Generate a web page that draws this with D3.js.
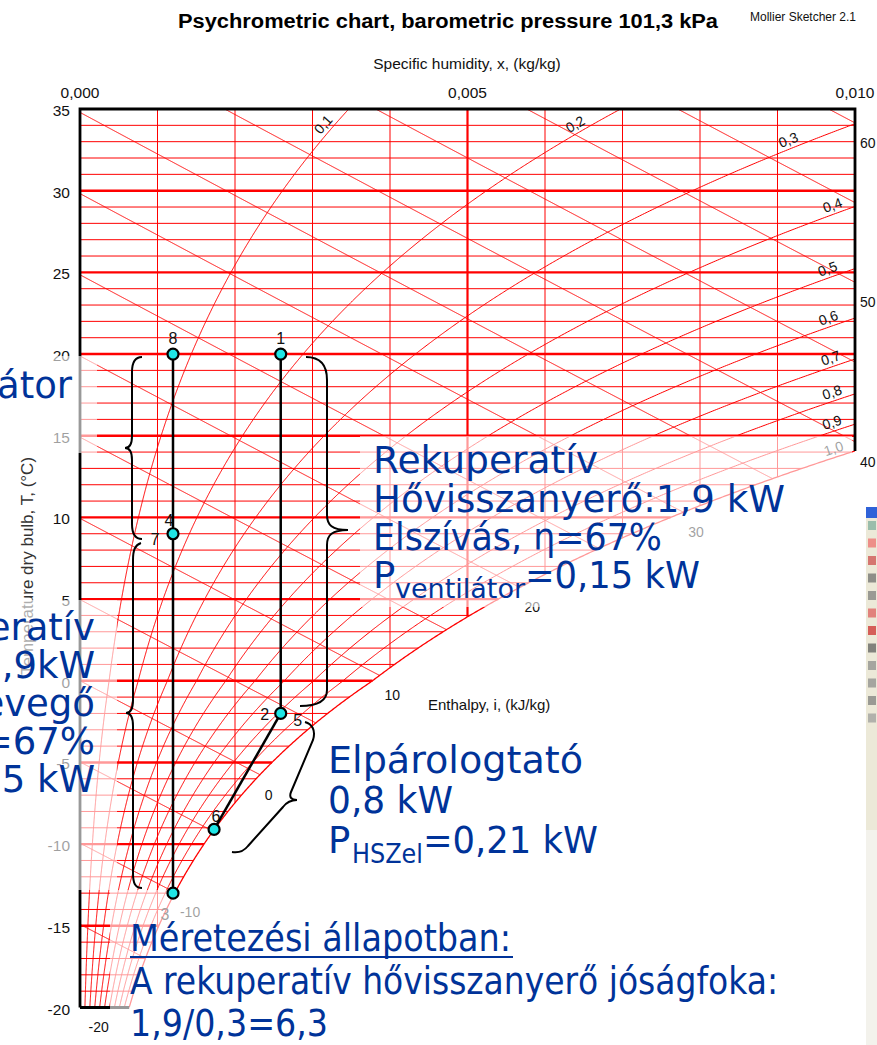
<!DOCTYPE html>
<html><head><meta charset="utf-8">
<script src="https://cdn.jsdelivr.net/npm/d3@7/dist/d3.min.js"></script>
<style>body{margin:0;background:#fff;overflow:hidden}svg{display:block}</style>
</head><body>
<script>
// ---------- data ----------
const pressure = 101.3; // kPa
const isotherms = [-19,-18,-17,-16,-15,-14,-13,-12,-11,-10,-9,-8,-7,-6,-5,-4,-3,-2,-1,0,1,2,3,4,5,6,7,8,9,10,11,12,13,14,15,16,17,18,19,20,21,22,23,24,25,26,27,28,29,30,31,32,33,34];
const humidityGrid = [0.001,0.002,0.003,0.004,0.005,0.006,0.007,0.008,0.009];
const rhLevels = [0.1,0.2,0.3,0.4,0.5,0.6,0.7,0.8,0.9,1.0];
const rhLabelText = ["0,1","0,2","0,3","0,4","0,5","0,6","0,7","0,8","0,9","1,0"];
const rhLabelT = [33.7,33.6,32.6,28.6,24.7,21.7,19.25,17.15,15.3,13.7];
const enthalpyLevels = [-20,-15,-10,-5,0,5,10,15,20,25,30,35,40,45,50,55,60];
const enthalpyLabelLevels = [-20,-10,0,10,20,30,40,50,60];
const tempTicks = [-20,-15,-10,-5,0,5,10,15,20,25,30,35];
const xTickValues = [0,0.005,0.010];
const xTickLabels = ["0,000","0,005","0,010"];
// state points
const stateNames = ["1","2","3","6","7","8"];
const stateX = [0.00259,0.00259,0.00120,0.00173,0.00120,0.00120];
const stateT = [20,-2.0,-13.0,-9.1,9.0,20];
const pointLabels = ["1","8","7","4","2","5","6","3"];
const pointLabelOf = ["1","8","7","7","2","2","6","3"];
const processPaths = [["8","3"],["1","2"],["2","6"]];

// ---------- psychrometrics ----------
function psat(T){ return T>=0 ? 0.61094*Math.exp(17.625*T/(T+243.04)) : 0.61115*Math.exp(22.452*T/(272.55+T)); }
function xOf(T,phi){ const p=phi*psat(T); return 0.622*p/(pressure-p); }
function tSat(x){ let lo=-60,hi=80; for(let k=0;k<60;k++){const m=(lo+hi)/2; if(xOf(m,1)<x) lo=m; else hi=m;} return (lo+hi)/2; }
function tOfEnth(i,x){ return (i-2501*x)/(1.006+1.86*x); }

const W=877,H=1045;
const svg=d3.select("body").append("svg").attr("width",W).attr("height",H);
const xS=d3.scaleLinear().domain([0,0.01]).range([80,855]);
const yS=d3.scaleLinear().domain([-20,35]).range([1007.5,109]);
const RED="#ff0000";
const sans="Liberation Sans, Arial, sans-serif";

svg.append("defs").append("clipPath").attr("id","plot").append("rect")
  .attr("x",xS(0)).attr("y",yS(35)).attr("width",xS(0.01)-xS(0)).attr("height",yS(-20)-yS(35));

const grid=svg.append("g").attr("clip-path","url(#plot)");
const line=d3.line().x(d=>xS(d[0])).y(d=>yS(d[1]));

// isotherms
grid.selectAll("line.iso").data(isotherms).join("line")
  .attr("x1",xS(0)).attr("x2",t=>xS(Math.min(xOf(t,1),0.01)))
  .attr("y1",t=>yS(t)).attr("y2",t=>yS(t))
  .attr("stroke",RED).attr("stroke-width",t=>t%5===0?2.4:1);

// constant humidity lines
grid.selectAll("line.xg").data(humidityGrid).join("line")
  .attr("x1",x=>xS(x)).attr("x2",x=>xS(x))
  .attr("y1",yS(35)).attr("y2",x=>yS(Math.max(tSat(x),-20)))
  .attr("stroke",RED).attr("stroke-width",x=>Math.abs(x-0.005)<1e-9?2.2:1);

// enthalpy lines
const enthEnds={};
enthalpyLevels.forEach(i=>{
  const pts=[]; const N=2000;
  for(let k=0;k<=N;k++){
    const x=0.01*k/N, T=tOfEnth(i,x);
    if(T>=-20 && T<=35 && x<=xOf(T,1)) pts.push([x,T]);
  }
  if(pts.length>1){
    grid.append("path").attr("d",line(pts)).attr("fill","none").attr("stroke",RED).attr("stroke-width",1);
    enthEnds[i]=pts[pts.length-1];
  }
});

// relative humidity curves
const rhEnds=[];
rhLevels.forEach(phi=>{
  const pts=[];
  for(let T=-20;T<=35.001;T+=0.05){ const x=xOf(T,phi); if(x<=0.0102) pts.push([x,T]); }
  grid.append("path").attr("d",line(pts)).attr("fill","none").attr("stroke",RED).attr("stroke-width",phi===1?1.3:1);
});

// frame
const tTop=tSat(0.01);
svg.append("path").attr("fill","none").attr("stroke","#000").attr("stroke-width",2.8)
  .attr("d",`M${xS(0)},${yS(-20)}L${xS(0)},${yS(35)}L${xS(0.01)},${yS(35)}L${xS(0.01)},${yS(tTop)}M${xS(0)},${yS(-20)}L${xS(xOf(-20,1))},${yS(-20)}`);

// RH labels
rhLevels.forEach((phi,k)=>{
  const T=rhLabelT[k];
  const px=xS(xOf(T,phi)), py=yS(T);
  const px2=xS(xOf(T+0.3,phi)), py2=yS(T+0.3);
  const ang=Math.atan2(py2-py,px2-px)*180/Math.PI;
  svg.append("text").attr("transform",`translate(${px},${py}) rotate(${ang})`)
    .attr("x",0).attr("y",-4).attr("text-anchor","middle")
    .attr("font-family",sans).attr("font-size",14).attr("fill","#111").text(rhLabelText[k]);
});

// enthalpy labels
enthalpyLabelLevels.forEach(i=>{
  const e=enthEnds[i]; if(!e) return;
  svg.append("text").attr("x",xS(e[0])+5).attr("y",yS(e[1])+25)
    .attr("font-family",sans).attr("font-size",14).attr("fill","#111").text(String(i));
});
svg.append("text").attr("x",428).attr("y",710).attr("font-family",sans).attr("font-size",15).attr("fill","#111").text("Enthalpy, i, (kJ/kg)");

// axes labels
svg.selectAll("text.yt").data(tempTicks).join("text")
  .attr("x",70).attr("y",t=>yS(t)+7).attr("text-anchor","end")
  .attr("font-family",sans).attr("font-size",15.5).attr("fill","#111").text(t=>String(t));
svg.selectAll("text.xt").data(xTickValues).join("text")
  .attr("x",x=>xS(x)).attr("y",98).attr("text-anchor","middle")
  .attr("font-family",sans).attr("font-size",15.5).attr("fill","#111").text((x,k)=>xTickLabels[k]);
svg.append("text").attr("x",467).attr("y",69).attr("text-anchor","middle").attr("font-family",sans).attr("font-size",15.5).attr("fill","#111").text("Specific humidity, x, (kg/kg)");
svg.append("text").attr("transform","translate(33,566) rotate(-90)").attr("text-anchor","middle")
  .attr("font-family",sans).attr("font-size",17).attr("fill","#333").text("Temperature dry bulb, T, (°C)");
svg.append("text").attr("x",448).attr("y",28).attr("text-anchor","middle").attr("font-family",sans).attr("font-weight","bold")
  .attr("font-size",20).attr("textLength",540).attr("lengthAdjust","spacingAndGlyphs").attr("fill","#000").text("Psychrometric chart, barometric pressure 101,3 kPa");
svg.append("text").attr("x",750).attr("y",21).attr("font-family",sans).attr("font-size",12).attr("fill","#111").text("Mollier Sketcher 2.1");

// point labels
const stateIdx=n=>stateNames.indexOf(n);
const labelOffsets={"1":[0,-15],"8":[0,-15],"7":[-18,6],"4":[-4,-13],"2":[-16,2],"5":[17,8],"6":[2,-12],"3":[-8,22]};
pointLabels.forEach((lab,k)=>{
  const s=stateIdx(pointLabelOf[k]);
  const o=labelOffsets[lab];
  svg.append("text").attr("x",xS(stateX[s])+o[0]).attr("y",yS(stateT[s])+o[1]+5).attr("text-anchor","middle")
    .attr("font-family",sans).attr("font-size",16).attr("fill","#111").text(lab);
});

// semi-transparent slide boxes
const boxes=[[0,356,97,97],[0,600,117,290],[360,436,492,171],[110,890,767,155]];
svg.selectAll("rect.box").data(boxes).join("rect")
  .attr("x",d=>d[0]).attr("y",d=>d[1]).attr("width",d=>d[2]).attr("height",d=>d[3])
  .attr("fill","#fff").attr("opacity",0.6);

// process lines
processPaths.forEach(p=>{
  const a=stateIdx(p[0]),b=stateIdx(p[1]);
  svg.append("line").attr("x1",xS(stateX[a])).attr("y1",yS(stateT[a])).attr("x2",xS(stateX[b])).attr("y2",yS(stateT[b]))
    .attr("stroke","#000").attr("stroke-width",2.5);
});
// braces
const braces=[
 "M142,357C135,357 132,362 132,372L132,436C132,444 130,448 125,448C130,448 132,452 132,460L132,524C132,534 135,539 142,539",
 "M141,543C135,545 133,550 133,560L133,700C133,709 131,713 126,713C131,713 133,717 133,726L133,873C133,883 135,888 142,888",
 "M306,357C320,357 327,365 327,380L327,515C327,525 332,530 348,530C332,530 327,535 327,545L327,690C327,700 318,706 300,706",
 "M305,722C312,724 316,730 313,740L291,792C289,797 291,800 297,800C290,800 286,803 283,807L248,846C244,851 238,853 232,852"];
svg.selectAll("path.brace").data(braces).join("path").attr("d",d=>d).attr("fill","none").attr("stroke","#000").attr("stroke-width",2);

// state points
svg.selectAll("circle.pt").data(stateNames).join("circle")
  .attr("cx",(n,k)=>xS(stateX[k])).attr("cy",(n,k)=>yS(stateT[k])).attr("r",5.5)
  .attr("fill","#1fe6e6").attr("stroke","#000").attr("stroke-width",2.2);

// slide texts
const BLUE="#003399", slide="DejaVu Sans, Verdana, sans-serif";
function t(x,y,s,size,tl,anchor){
  const e=svg.append("text").attr("x",x).attr("y",y).attr("font-family",slide).attr("font-size",size).attr("fill",BLUE).text(s);
  if(tl) e.attr("textLength",tl).attr("lengthAdjust","spacingAndGlyphs");
  if(anchor) e.attr("text-anchor",anchor);
  return e;
}
t(72,398,"Ventilátor",37,null,"end");
t(95,640,"Rekuperatív",37,null,"end");
t(95,678,"Hővisszanyerő:1,9kW",37,null,"end");
t(95,716,"Friss levegő",37,null,"end");
t(95,754,"Befúvás, η=67%",37,null,"end");
t(95,792,"Pventilátor=0,15 kW",37,null,"end");

t(373,473,"Rekuperatív",37,225);
t(373,512,"Hővisszanyerő:1,9 kW",37,412);
t(373,550,"Elszívás, η=67%",37,289);
t(373,588,"P",37);
t(395,598,"ventilátor",27,130);
t(525,588,"=0,15 kW",37,175);

t(328,773,"Elpárologtató",37,255);
t(328,813,"0,8 kW",37,125);
t(328,853,"P",37);
t(352,863,"HSZel",27,71);
t(423,853,"=0,21 kW",37,175);

t(130,951,"Méretezési állapotban:",37,381);
svg.append("line").attr("x1",130).attr("x2",513).attr("y1",957).attr("y2",957).attr("stroke",BLUE).attr("stroke-width",2);
t(130,994,"A rekuperatív hővisszanyerő jóságfoka:",37,648);
t(130,1036,"1,9/0,3=6,3",37,198);

// right window strip
svg.append("rect").attr("x",866).attr("y",507).attr("width",11).attr("height",538).attr("fill","#ece9d8");
svg.append("rect").attr("x",866).attr("y",830).attr("width",11).attr("height",215).attr("fill","#f3f2ec");
svg.append("rect").attr("x",866).attr("y",507).attr("width",11).attr("height",11).attr("fill","#2f62d8");
const icons=["#7a9","#e66","#c44","#666","#777","#d55","#c22","#555","#888","#888","#777","#999"];
svg.selectAll("rect.ic").data(icons).join("rect").attr("x",868).attr("y",(d,k)=>521+k*17.5).attr("width",8).attr("height",9).attr("fill",d=>d).attr("opacity",0.7);
</script>
</body></html>
